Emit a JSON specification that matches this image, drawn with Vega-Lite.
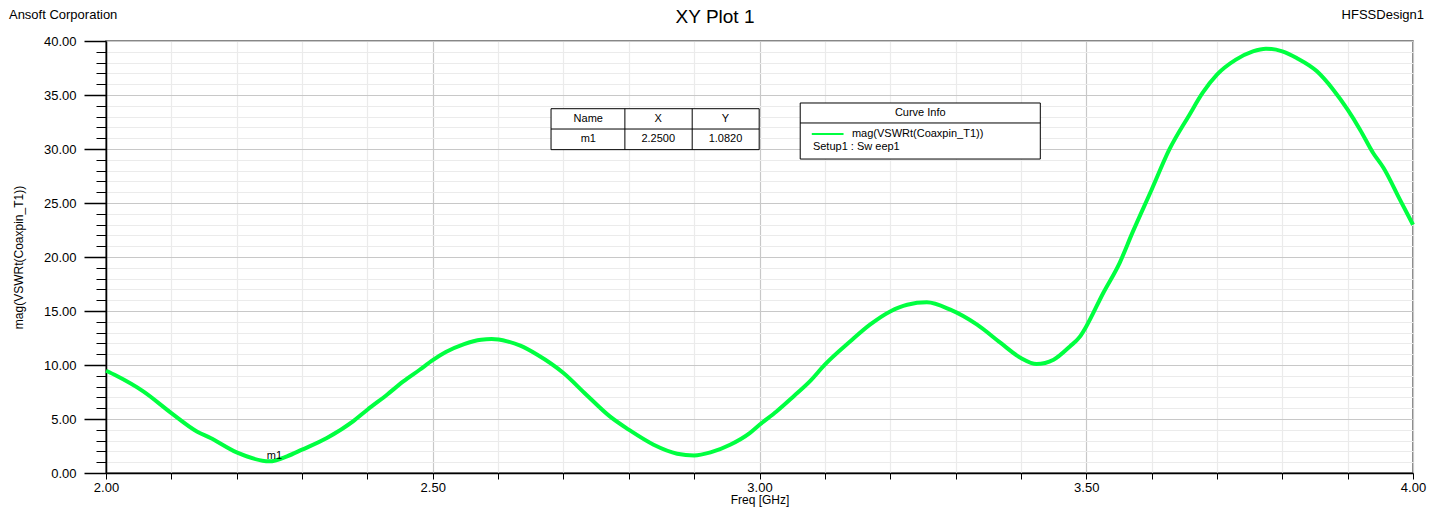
{
  "$schema": "https://vega.github.io/schema/vega-lite/v6.json",
  "width": 1307,
  "height": 432,
  "autosize": {"type": "none"},
  "padding": {"left": 106, "top": 41, "right": 29, "bottom": 35},
  "background": "white",
  "config": {
    "font": "Liberation Sans",
    "view": {"stroke": "#606060", "strokeWidth": 1.5},
    "text": {"font": "Liberation Sans", "color": "#000000"}
  },
  "resolve": {"axis": {"x": "independent", "y": "independent"}},
  "data": {"values": [{}]},
  "layer": [
    {
      "data": {"values": [
        {"freq": 2.000, "vswr": 9.47}, {"freq": 2.016, "vswr": 9.0}, {"freq": 2.057, "vswr": 7.56},
        {"freq": 2.100, "vswr": 5.55}, {"freq": 2.139, "vswr": 3.85}, {"freq": 2.160, "vswr": 3.24},
        {"freq": 2.200, "vswr": 1.91}, {"freq": 2.250, "vswr": 1.08}, {"freq": 2.277, "vswr": 1.54},
        {"freq": 2.300, "vswr": 2.16}, {"freq": 2.338, "vswr": 3.24}, {"freq": 2.378, "vswr": 4.78},
        {"freq": 2.400, "vswr": 5.86}, {"freq": 2.430, "vswr": 7.25}, {"freq": 2.455, "vswr": 8.48},
        {"freq": 2.480, "vswr": 9.56}, {"freq": 2.500, "vswr": 10.45}, {"freq": 2.520, "vswr": 11.2},
        {"freq": 2.548, "vswr": 11.94}, {"freq": 2.574, "vswr": 12.34}, {"freq": 2.590, "vswr": 12.4},
        {"freq": 2.614, "vswr": 12.19}, {"freq": 2.634, "vswr": 11.79}, {"freq": 2.660, "vswr": 10.95},
        {"freq": 2.700, "vswr": 9.26}, {"freq": 2.735, "vswr": 7.25}, {"freq": 2.771, "vswr": 5.24},
        {"freq": 2.800, "vswr": 4.01}, {"freq": 2.838, "vswr": 2.62}, {"freq": 2.874, "vswr": 1.79},
        {"freq": 2.900, "vswr": 1.63}, {"freq": 2.925, "vswr": 1.91}, {"freq": 2.955, "vswr": 2.62},
        {"freq": 2.985, "vswr": 3.70}, {"freq": 3.000, "vswr": 4.47}, {"freq": 3.026, "vswr": 5.70},
        {"freq": 3.052, "vswr": 7.09}, {"freq": 3.077, "vswr": 8.48}, {"freq": 3.100, "vswr": 10.03},
        {"freq": 3.139, "vswr": 12.19}, {"freq": 3.169, "vswr": 13.73}, {"freq": 3.200, "vswr": 14.96},
        {"freq": 3.226, "vswr": 15.58}, {"freq": 3.256, "vswr": 15.80}, {"freq": 3.292, "vswr": 15.12},
        {"freq": 3.333, "vswr": 13.73}, {"freq": 3.369, "vswr": 12.04}, {"freq": 3.400, "vswr": 10.65},
        {"freq": 3.424, "vswr": 10.09}, {"freq": 3.450, "vswr": 10.49}, {"freq": 3.475, "vswr": 11.72},
        {"freq": 3.490, "vswr": 12.6}, {"freq": 3.500, "vswr": 13.57}, {"freq": 3.526, "vswr": 16.67},
        {"freq": 3.551, "vswr": 19.44}, {"freq": 3.571, "vswr": 22.3}, {"freq": 3.600, "vswr": 26.23},
        {"freq": 3.627, "vswr": 29.94}, {"freq": 3.658, "vswr": 33.18}, {"freq": 3.678, "vswr": 35.19},
        {"freq": 3.700, "vswr": 36.88}, {"freq": 3.729, "vswr": 38.27}, {"freq": 3.755, "vswr": 39.04},
        {"freq": 3.775, "vswr": 39.29}, {"freq": 3.800, "vswr": 39.04}, {"freq": 3.822, "vswr": 38.42},
        {"freq": 3.853, "vswr": 37.19}, {"freq": 3.878, "vswr": 35.49}, {"freq": 3.900, "vswr": 33.64},
        {"freq": 3.919, "vswr": 31.79}, {"freq": 3.939, "vswr": 29.63}, {"freq": 3.955, "vswr": 28.24},
        {"freq": 3.980, "vswr": 25.31}, {"freq": 4.000, "vswr": 22.99}
      ]},
      "mark": {"type": "line", "color": "#00ff40", "strokeWidth": 4, "interpolate": "monotone"},
      "encoding": {
        "x": {
          "field": "freq", "type": "quantitative",
          "scale": {"domain": [2, 4], "nice": false, "zero": false},
          "axis": {
            "title": "Freq [GHz]",
            "titleFont": "Liberation Sans", "titleFontSize": 12, "titleFontWeight": "normal", "titleColor": "#000000",
            "titlePadding": 0,
            "values": [2.0, 2.1, 2.2, 2.3, 2.4, 2.5, 2.6, 2.7, 2.8, 2.9, 3.0, 3.1, 3.2, 3.3, 3.4, 3.5, 3.6, 3.7, 3.8, 3.9, 4.0],
            "labelExpr": "round(datum.value*10) % 5 === 0 ? format(datum.value, '.2f') : ''",
            "labelFont": "Liberation Sans", "labelFontSize": 13, "labelColor": "#000000",
            "labelFlush": false, "labelOverlap": false, "labelPadding": 2,
            "domainColor": "#000000", "domainWidth": 1.5,
            "tickColor": "#000000", "tickSize": 6, "tickWidth": 1,
            "grid": true,
            "gridColor": {"condition": {"test": "round(datum.value*10) % 5 === 0", "value": "#c8c8c8"}, "value": "#ebebeb"},
            "gridWidth": 1.2
          }
        },
        "y": {
          "field": "vswr", "type": "quantitative",
          "scale": {"domain": [0, 40], "nice": false, "zero": false},
          "axis": {
            "title": "mag(VSWRt(Coaxpin_T1))",
            "titleFont": "Liberation Sans", "titleFontSize": 12, "titleFontWeight": "normal", "titleColor": "#000000",
            "titlePadding": 18,
            "values": [0,1,2,3,4,5,6,7,8,9,10,11,12,13,14,15,16,17,18,19,20,21,22,23,24,25,26,27,28,29,30,31,32,33,34,35,36,37,38,39,40],
            "labelExpr": "datum.value % 5 === 0 ? format(datum.value, '.2f') : ''",
            "labelFont": "Liberation Sans", "labelFontSize": 13, "labelColor": "#000000",
            "labelFlush": false, "labelOverlap": false, "labelPadding": 8,
            "domainColor": "#000000", "domainWidth": 1.5,
            "tickColor": "#000000",
            "tickSize": {"condition": {"test": "datum.value % 5 === 0", "value": 22}, "value": 10},
            "tickWidth": {"condition": {"test": "datum.value % 5 === 0", "value": 1.5}, "value": 1},
            "grid": true,
            "gridColor": {"condition": {"test": "datum.value % 5 === 0", "value": "#c8c8c8"}, "value": "#ebebeb"},
            "gridWidth": 1.2
          }
        }
      }
    },
    {
      "mark": {"type": "rect", "fill": "white", "stroke": "#000000", "strokeWidth": 1},
      "encoding": {
        "x": {"datum": 2.681, "type": "quantitative", "axis": null}, "x2": {"datum": 2.9995},
        "y": {"datum": 33.73, "type": "quantitative", "axis": null}, "y2": {"datum": 29.94}
      }
    },
    {
      "mark": {"type": "rule", "color": "#000000", "strokeWidth": 1},
      "encoding": {
        "x": {"datum": 2.681, "type": "quantitative", "axis": null}, "x2": {"datum": 2.9995},
        "y": {"datum": 31.85, "type": "quantitative", "axis": null}
      }
    },
    {
      "mark": {"type": "rule", "color": "#000000", "strokeWidth": 1},
      "encoding": {
        "x": {"datum": 2.794, "type": "quantitative", "axis": null},
        "y": {"datum": 33.73, "type": "quantitative", "axis": null}, "y2": {"datum": 29.94}
      }
    },
    {
      "mark": {"type": "rule", "color": "#000000", "strokeWidth": 1},
      "encoding": {
        "x": {"datum": 2.897, "type": "quantitative", "axis": null},
        "y": {"datum": 33.73, "type": "quantitative", "axis": null}, "y2": {"datum": 29.94}
      }
    },
    {
      "mark": {"type": "text", "fontSize": 11, "align": "center", "baseline": "middle"},
      "encoding": {"x": {"datum": 2.738, "type": "quantitative", "axis": null}, "y": {"datum": 32.8, "type": "quantitative", "axis": null}, "text": {"value": "Name"}}
    },
    {
      "mark": {"type": "text", "fontSize": 11, "align": "center", "baseline": "middle"},
      "encoding": {"x": {"datum": 2.845, "type": "quantitative", "axis": null}, "y": {"datum": 32.8, "type": "quantitative", "axis": null}, "text": {"value": "X"}}
    },
    {
      "mark": {"type": "text", "fontSize": 11, "align": "center", "baseline": "middle"},
      "encoding": {"x": {"datum": 2.948, "type": "quantitative", "axis": null}, "y": {"datum": 32.8, "type": "quantitative", "axis": null}, "text": {"value": "Y"}}
    },
    {
      "mark": {"type": "text", "fontSize": 11, "align": "center", "baseline": "middle"},
      "encoding": {"x": {"datum": 2.738, "type": "quantitative", "axis": null}, "y": {"datum": 30.9, "type": "quantitative", "axis": null}, "text": {"value": "m1"}}
    },
    {
      "mark": {"type": "text", "fontSize": 11, "align": "center", "baseline": "middle"},
      "encoding": {"x": {"datum": 2.845, "type": "quantitative", "axis": null}, "y": {"datum": 30.9, "type": "quantitative", "axis": null}, "text": {"value": "2.2500"}}
    },
    {
      "mark": {"type": "text", "fontSize": 11, "align": "center", "baseline": "middle"},
      "encoding": {"x": {"datum": 2.948, "type": "quantitative", "axis": null}, "y": {"datum": 30.9, "type": "quantitative", "axis": null}, "text": {"value": "1.0820"}}
    },
    {
      "mark": {"type": "rect", "fill": "white", "stroke": "#000000", "strokeWidth": 1},
      "encoding": {
        "x": {"datum": 3.0623, "type": "quantitative", "axis": null}, "x2": {"datum": 3.4297},
        "y": {"datum": 34.26, "type": "quantitative", "axis": null}, "y2": {"datum": 29.07}
      }
    },
    {
      "mark": {"type": "rule", "color": "#000000", "strokeWidth": 1},
      "encoding": {
        "x": {"datum": 3.0623, "type": "quantitative", "axis": null}, "x2": {"datum": 3.4297},
        "y": {"datum": 32.41, "type": "quantitative", "axis": null}
      }
    },
    {
      "mark": {"type": "text", "fontSize": 11, "align": "center", "baseline": "middle"},
      "encoding": {"x": {"datum": 3.246, "type": "quantitative", "axis": null}, "y": {"datum": 33.33, "type": "quantitative", "axis": null}, "text": {"value": "Curve Info"}}
    },
    {
      "mark": {"type": "rule", "color": "#00ff40", "strokeWidth": 2},
      "encoding": {
        "x": {"datum": 3.080, "type": "quantitative", "axis": null}, "x2": {"datum": 3.1286},
        "y": {"datum": 31.39, "type": "quantitative", "axis": null}
      }
    },
    {
      "mark": {"type": "text", "fontSize": 11, "align": "left", "baseline": "middle"},
      "encoding": {"x": {"datum": 3.1414, "type": "quantitative", "axis": null}, "y": {"datum": 31.39, "type": "quantitative", "axis": null}, "text": {"value": "mag(VSWRt(Coaxpin_T1))"}}
    },
    {
      "mark": {"type": "text", "fontSize": 11, "align": "left", "baseline": "middle"},
      "encoding": {"x": {"datum": 3.0817, "type": "quantitative", "axis": null}, "y": {"datum": 30.15, "type": "quantitative", "axis": null}, "text": {"value": "Setup1 : Sw eep1"}}
    },
    {
      "mark": {"type": "text", "fontSize": 11, "align": "left", "baseline": "middle"},
      "encoding": {"x": {"datum": 2.246, "type": "quantitative", "axis": null}, "y": {"datum": 1.6, "type": "quantitative", "axis": null}, "text": {"value": "m1"}}
    },
    {
      "mark": {"type": "text", "fontSize": 19, "align": "center", "baseline": "middle"},
      "encoding": {"x": {"datum": 2.932, "type": "quantitative", "axis": null}, "y": {"datum": 42.2, "type": "quantitative", "axis": null}, "text": {"value": "XY Plot 1"}}
    },
    {
      "mark": {"type": "text", "fontSize": 13, "align": "left", "baseline": "middle"},
      "encoding": {"x": {"datum": 1.8515, "type": "quantitative", "axis": null}, "y": {"datum": 42.39, "type": "quantitative", "axis": null}, "text": {"value": "Ansoft Corporation"}}
    },
    {
      "mark": {"type": "text", "fontSize": 13, "align": "right", "baseline": "middle"},
      "encoding": {"x": {"datum": 4.0168, "type": "quantitative", "axis": null}, "y": {"datum": 42.39, "type": "quantitative", "axis": null}, "text": {"value": "HFSSDesign1"}}
    }
  ]
}
